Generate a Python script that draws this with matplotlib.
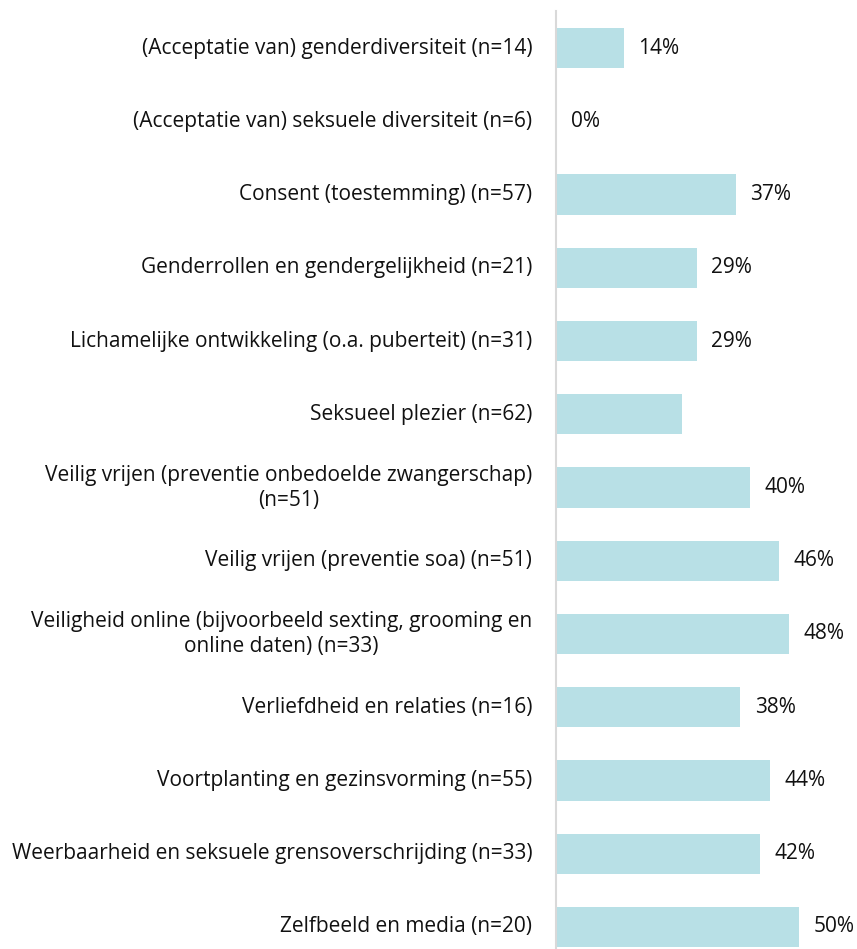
import numpy as np
import matplotlib
matplotlib.use("Agg")
import matplotlib.pyplot as plt

plt.rcParams["font.family"] = ["Open Sans", "DejaVu Sans"]

categories = [
    "(Acceptatie van) genderdiversiteit (n=14)",
    "(Acceptatie van) seksuele diversiteit (n=6)",
    "Consent (toestemming) (n=57)",
    "Genderrollen en gendergelijkheid (n=21)",
    "Lichamelijke ontwikkeling (o.a. puberteit) (n=31)",
    "Seksueel plezier (n=62)",
    "Veilig vrijen (preventie onbedoelde zwangerschap)\n(n=51)",
    "Veilig vrijen (preventie soa) (n=51)",
    "Veiligheid online (bijvoorbeeld sexting, grooming en\nonline daten) (n=33)",
    "Verliefdheid en relaties (n=16)",
    "Voortplanting en gezinsvorming (n=55)",
    "Weerbaarheid en seksuele grensoverschrijding (n=33)",
    "Zelfbeeld en media (n=20)",
]
values = [14, 0, 37, 29, 29, 26, 40, 46, 48, 38, 44, 42, 50]
value_labels = ["14%", "0%", "37%", "29%", "29%", None, "40%", "46%",
                "48%", "38%", "44%", "42%", "50%"]

bar_color = "#B8E0E6"

fig = plt.figure(figsize=(8.57, 9.49), dpi=100)
ax = fig.add_axes([556 / 857, -14.6 / 949, 301 / 857, 952.2 / 949])

y = np.arange(len(categories))
ax.barh(y, values, height=0.55, color=bar_color)

ax.set_xlim(0, 62)
ax.set_ylim(len(categories) - 0.5, -0.5)

# percentage labels next to the bars (Seksueel plezier has none)
for yi, v, lab in zip(y, values, value_labels):
    if lab is None:
        continue
    ax.text(v + 3.0, yi, lab, va="center", ha="left", fontsize=15,
            color="#111111")

for yi, cat in zip(y, categories):
    ax.text(-4.9, yi, cat, va="center", ha="right", multialignment="center",
            fontsize=15, color="#111111", linespacing=1.25)

for s in ["top", "right", "bottom"]:
    ax.spines[s].set_visible(False)
ax.spines["left"].set_color("#D9D9D9")
ax.spines["left"].set_linewidth(1.5)
ax.set_xticks([])
ax.set_yticks([])

fig.savefig("out.png", dpi=100)
